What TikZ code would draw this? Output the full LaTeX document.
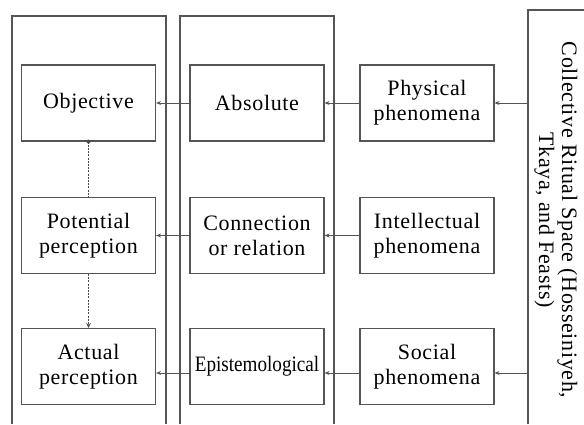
\documentclass[tikz,border=0pt]{standalone}
\usepackage{fontspec}
\setmainfont{Liberation Serif}[LetterSpace=3]
\newfontfamily\plainserif{Liberation Serif}
\usetikzlibrary{arrows.meta}
\definecolor{lineg}{HTML}{555555}
\definecolor{dotg}{HTML}{4A4A4A}
\tikzset{
  x=1pt,y=1pt,
  box/.style={draw=lineg,line width=1.1pt,minimum width=134pt,minimum height=76pt,inner sep=0pt,align=center,
    font=\fontsize{22}{25}\selectfont},
  frame/.style={draw=lineg,line width=1.1pt},
  arr/.style={draw=lineg,line width=0.9pt,-{Stealth[length=5pt,width=4pt]}},
  dotline/.style={draw=dotg,line width=1.6pt,dash pattern=on 2pt off 1.2pt},
  dotarr/.style={dotline,-{Stealth[length=5pt,width=5pt,line width=0pt]}}
}
\begin{document}
\begin{tikzpicture}
\useasboundingbox (0,0) rectangle (584,424);
% frames
\draw[frame] (12,0) -- (12,408) -- (166,408) -- (166,0);
\draw[frame] (180,0) -- (180,408) -- (334,408) -- (334,0);
\draw[frame] (528,0) -- (528,414) -- (584,414);
% boxes
\node[box] (obj) at (88.5,321) {Objective};
\node[box] (pot) at (88.5,188.5) {Potential\\perception};
\node[box] (act) at (88.5,57.5) {Actual\\perception};
\node[box] (abs) at (257,321) {Absolute};
\node[box] (con) at (257,188.5) {Connection\\or relation};
\node[box] (epi) at (257,57.5) {\raisebox{-6pt}{\scalebox{0.87}[1]{\plainserif\fontsize{22}{25}\selectfont Epistemological}}};
\node[box] (phy) at (427,321) {Physical\\phenomena};
\node[box] (int) at (427,188.5) {Intellectual\\phenomena};
\node[box] (soc) at (427,57.5) {Social\\phenomena};
% side label
\node[rotate=-90,align=center,font=\fontsize{22}{23}\selectfont,inner sep=0pt] (col) at (556,204)
  {Collective Ritual Space (Hosseiniyeh,\\Tkaya, and Feasts)};
\coordinate (r1) at (528,321);
\coordinate (r3) at (528,51);
% arrows
\draw[arr] (r1) -- (phy.east);
\draw[arr] (phy.west) -- (abs.east);
\draw[arr] (abs.west) -- (obj.east);
\draw[arr] (int.west) -- (con.east);
\draw[arr] (con.west) -- (pot.east);
\draw[arr] (r3) -- (soc.east |- r3);
\draw[arr] (soc.west |- r3) -- (epi.east |- r3);
\draw[arr] (epi.west |- r3) -- (act.east |- r3);
% dotted vertical
\fill[dotg] (obj.south) circle (2pt);
\draw[dotline] (obj.south) -- (pot.north);
\draw[dotarr] (pot.south) -- (act.north);
\end{tikzpicture}
\end{document}
